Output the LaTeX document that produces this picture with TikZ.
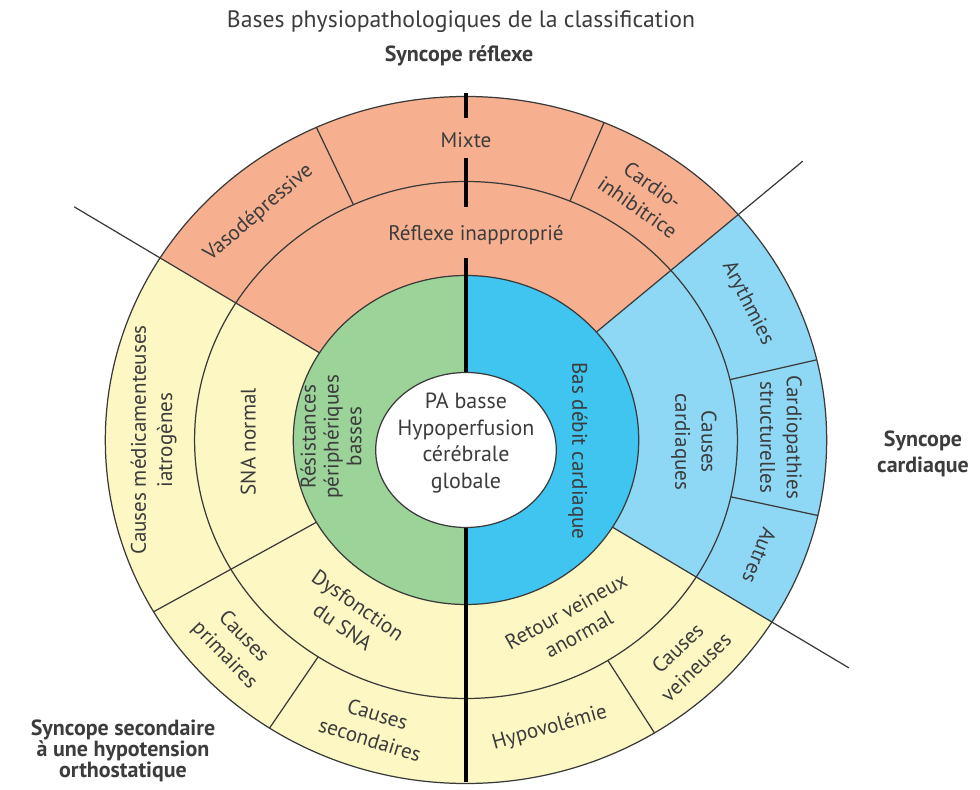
\documentclass[tikz,border=0pt]{standalone}
\usepackage{fontspec}
\setmainfont{PT Sans}
\usetikzlibrary{positioning}

\definecolor{salmon}{HTML}{F7B08F}
\definecolor{cream}{HTML}{FDF7C3}
\definecolor{leaf}{HTML}{9CD399}
\definecolor{deepsky}{HTML}{3FC5F0}
\definecolor{paleblue}{HTML}{8ED8F6}
\definecolor{linegray}{HTML}{3A3A3A}
\definecolor{textgray}{HTML}{3C3C3C}

\begin{document}
\begin{tikzpicture}[
    ring/.style={draw=linegray, line width=0.7pt},
    spoke/.style={draw=linegray, line width=0.7pt},
    divider/.style={draw=black, line width=2.6pt},
    segtext/.style={
        font=\fontsize{12}{15}\selectfont, text=textgray,
        align=center, inner sep=1pt
    },
    sidelabel/.style={
        font=\fontsize{12.5}{14.5}\selectfont\bfseries,
        text=textgray, align=center
    }
]

%% ─── FRAME ───────────────────────────────────────────────────
\useasboundingbox (-9.32,-7.0) rectangle (10.28,8.8);

%% ─── WHEEL ───────────────────────────────────────────────────
\begin{scope}[xscale=1.05]
  % inner halves
  \fill[leaf] (0,0) -- (90:3.29) arc[start angle=90, end angle=270, radius=3.29] -- cycle;
  \fill[deepsky] (0,0) -- (-90:3.29) arc[start angle=-90, end angle=90, radius=3.29] -- cycle;

  % middle + outer sectors
  \foreach \sa/\sb/\col in {41/148/salmon, 148/328/cream, -32/41/paleblue}
    \fill[\col] (\sa:3.29) arc[start angle=\sa, end angle=\sb, radius=3.29]
      -- (\sb:6.87) arc[start angle=\sb, end angle=\sa, radius=6.87] -- cycle;

  % rings
  \foreach \r in {3.29, 5.17, 6.87}
    \draw[ring] (0,0) circle[radius=\r];

  % spokes
  \foreach \a/\rin/\rout in {148/3.29/8.8, 41/3.29/8.5, -32/3.29/8.6, 210/3.29/6.87,
                             114.5/5.17/6.87, 67.5/5.17/6.87, 13.5/5.17/6.87,
                             -12.7/5.17/6.87, -58.5/5.17/6.87, 237/5.17/6.87}
    \draw[spoke] (\a:\rin) -- (\a:\rout);

  % thick divider
  \draw[divider] (0,6.94) -- (0,6.44);
  \draw[divider] (0,5.64) -- (0,4.66);
  \draw[divider] (0,3.64) -- (0,-6.84);

  % centre
  \draw[ring, fill=white] (0,-0.2) ellipse[x radius=1.72, y radius=1.55];
  \node[segtext, font=\fontsize{12.5}{15}\selectfont] (centre) at (0,-0.06)
      {PA basse\\Hypoperfusion\\cérébrale\\globale};

  % inner ring
  \node[segtext, rotate=90, font=\fontsize{12}{13}\selectfont] (resist) at (178.5:2.57)
      {Résistances\\périphériques\\basses};
  \node[segtext, rotate=-90] (basdebit) at (-5.9:2.14) {Bas débit cardiaque};

  % middle ring
  \node[segtext] (reflexe) at (0.19,4.1) {Réflexe inapproprié};
  \node[segtext, rotate=90] (snanormal) at (180.5:4.15) {SNA normal};
  \node[segtext, rotate=-35] (dysf) at (238:4.15) {Dysfonction\\du SNA};
  \node[segtext, rotate=29] (retour) at (-61:4.18) {Retour veineux\\anormal};
  \node[segtext, rotate=-90] (causcard) at (-0.5:4.34) {Causes\\cardiaques};

  % outer ring
  \node[segtext] (mixte) at (90:6.0) {Mixte};
  \node[segtext, rotate=41] (vaso) at (131:6.02) {Vasodépressive};
  \node[segtext, rotate=-35] (cardioinh) at (55:5.95) {Cardio-\\inhibitrice};
  \node[segtext, rotate=-63] (aryth) at (27:6.02) {Arythmies};
  \node[segtext, rotate=-90] (cardiopath) at (0.5:6.0) {Cardiopathies\\structurelles};
  \node[segtext, rotate=-112] (autres) at (-22.5:6.05) {Autres};
  \node[segtext, rotate=44] (veineuses) at (-46:6.05) {Causes\\veineuses};
  \node[segtext, rotate=15.5] (hypovol) at (-74.5:5.98) {Hypovolémie};
  \node[segtext, rotate=-17] (secondaires) at (253:6.0) {Causes\\secondaires};
  \node[segtext, rotate=-46] (primaires) at (223:6.05) {Causes\\primaires};
  \node[segtext, rotate=90] (medic) at (180:5.95) {Causes médicamenteuses\\iatrogènes};
\end{scope}

%% ─── LABELS ──────────────────────────────────────────────────
\node[font=\fontsize{13.5}{15}\selectfont, text=textgray] (title) at (-0.1,8.36)
    {Bases physiopathologiques de la classification};
\node[sidelabel] (reflexelbl) at (-0.14,7.68) {Syncope réflexe};
\node[sidelabel] (cardlbl) at (9.14,-0.28) {Syncope\\cardiaque};
\node[sidelabel, font=\fontsize{12.5}{12}\selectfont\bfseries] (orthlbl) at (-6.86,-6.22)
    {Syncope secondaire\\à une hypotension\\orthostatique};

\end{tikzpicture}
\end{document}
